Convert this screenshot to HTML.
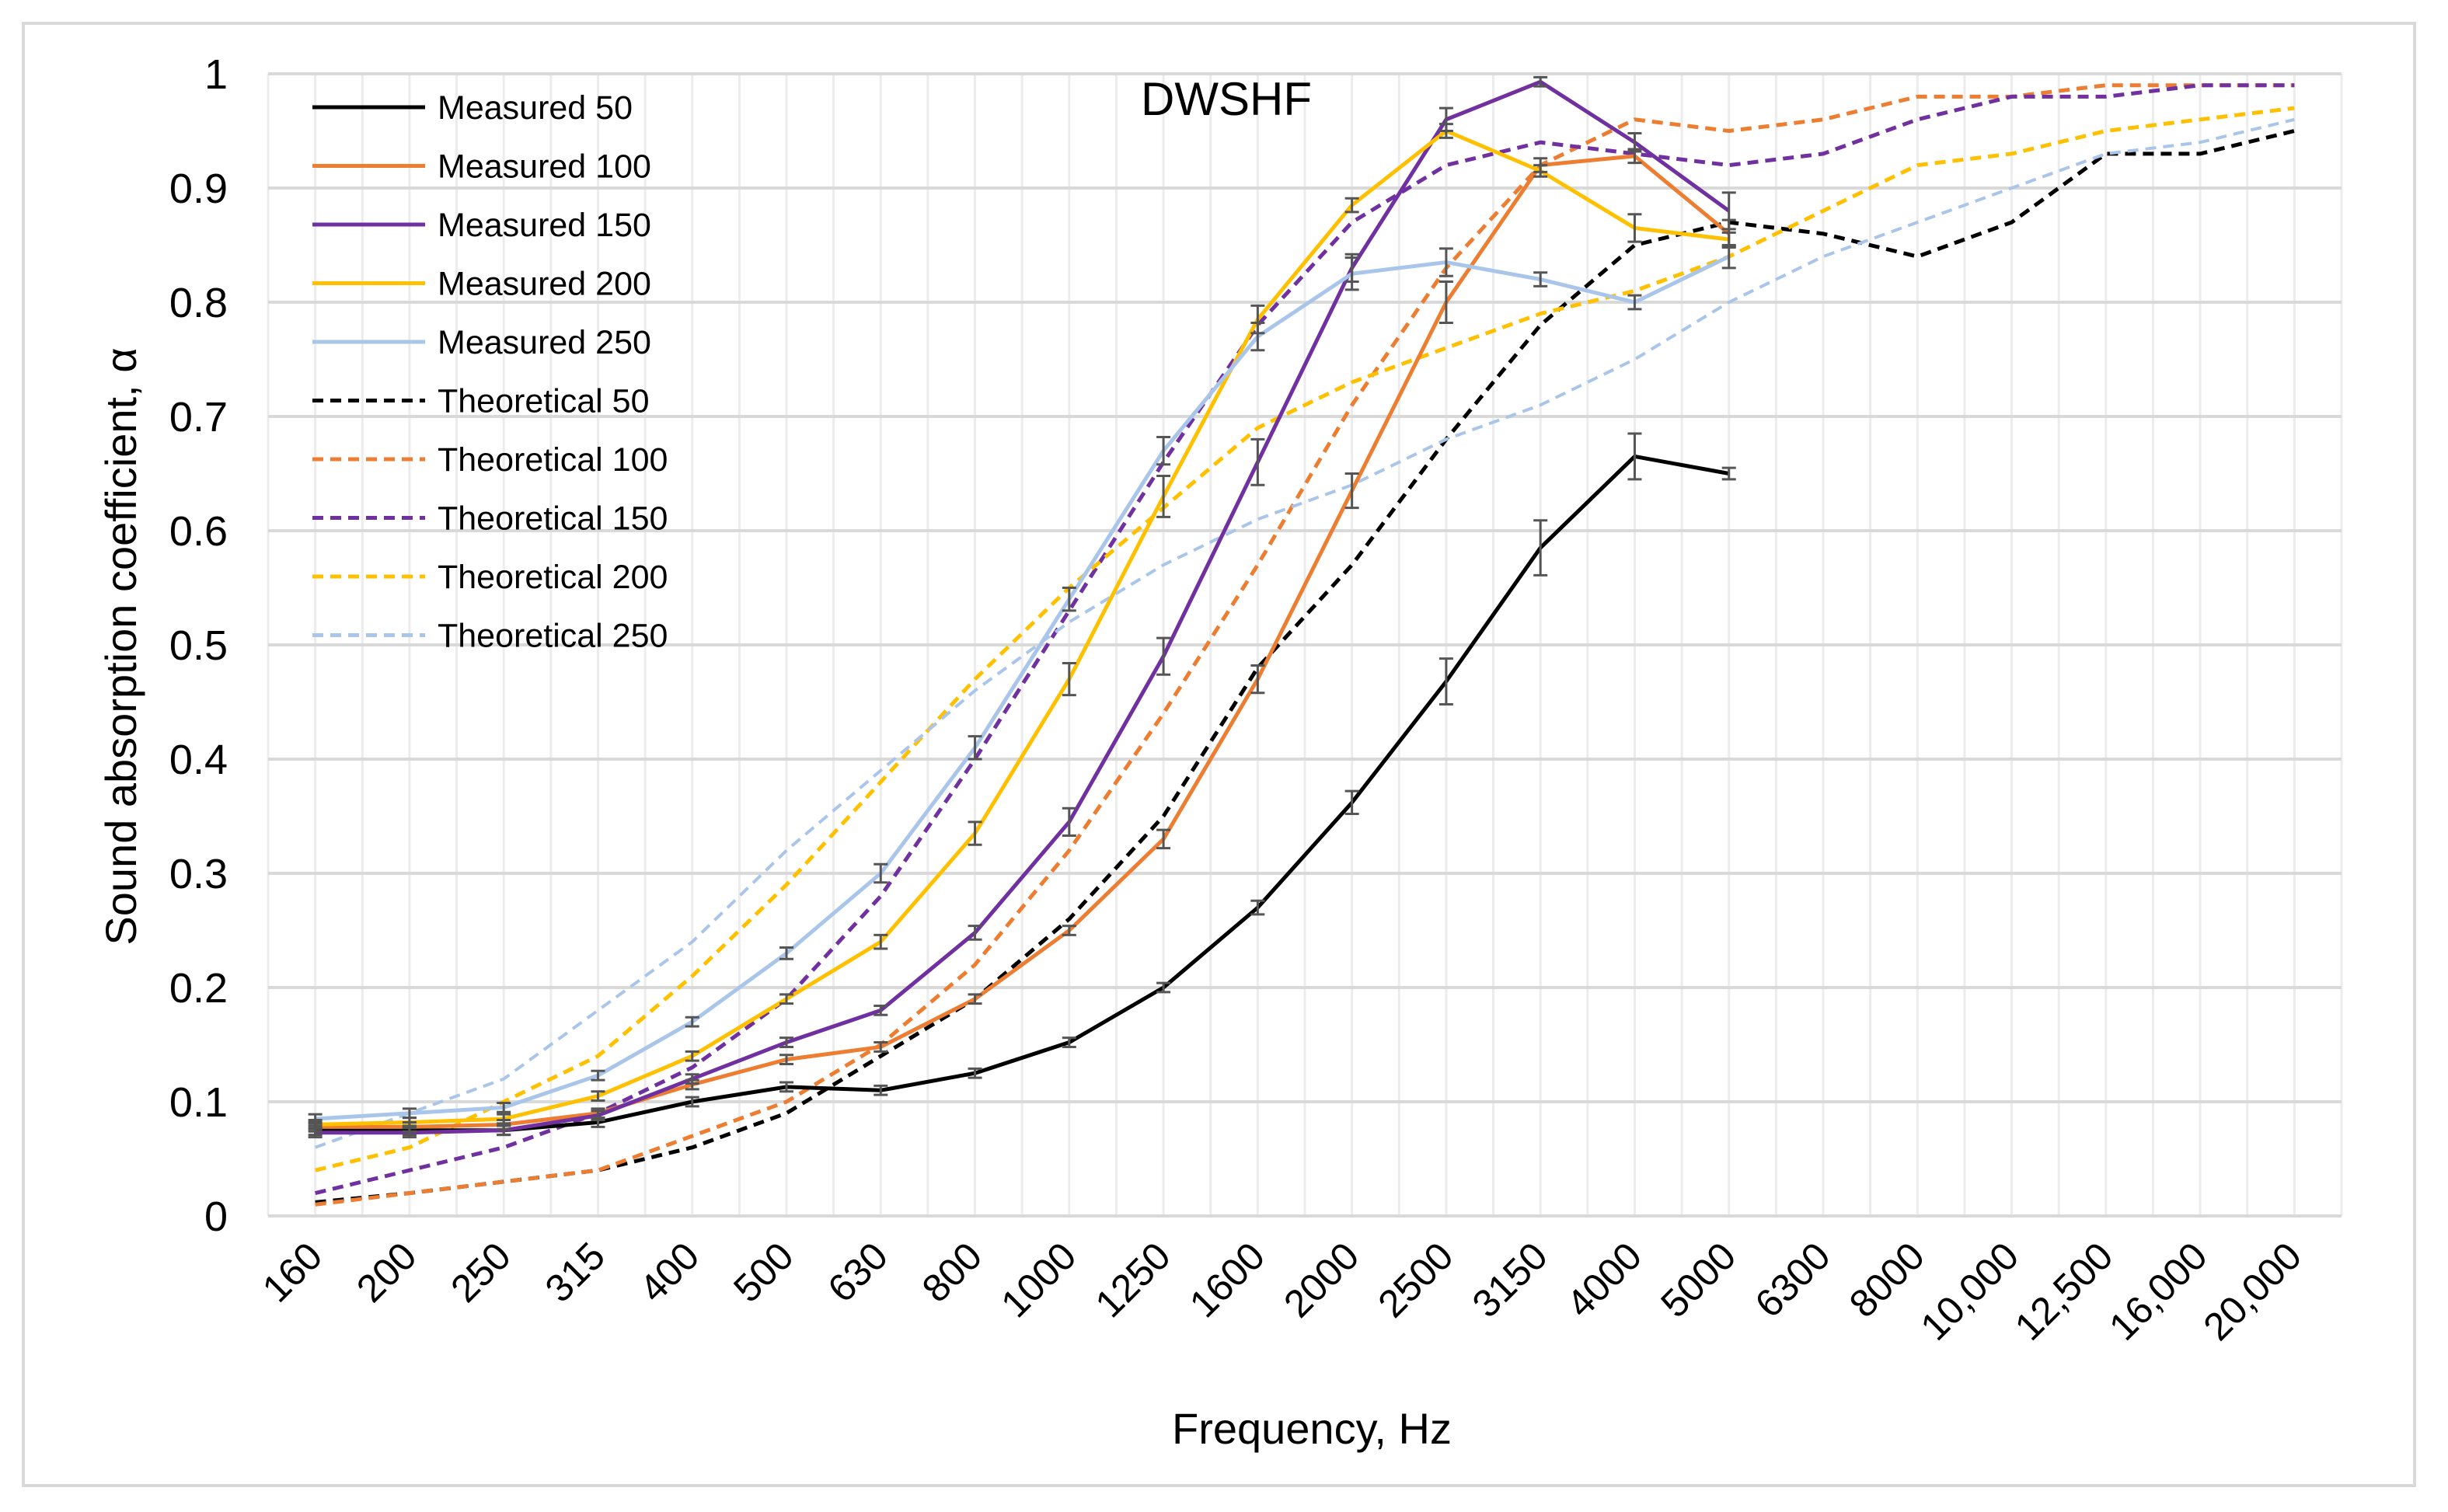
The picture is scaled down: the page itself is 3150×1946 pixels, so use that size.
<!DOCTYPE html>
<html><head><meta charset="utf-8"><style>
html,body{margin:0;padding:0;background:#fff;}
svg{display:block;font-family:"Liberation Sans",sans-serif;}
</style></head><body>
<svg id="chart" width="3150" height="1946" viewBox="0 0 3150 1946" xmlns="http://www.w3.org/2000/svg">
<rect x="30" y="30" width="3077" height="1882" fill="#fff" stroke="#d9d9d9" stroke-width="4"/>
<g id="grid"></g>
<g id="series"></g>
<g id="axes"></g>
<text x="1578" y="148" font-size="60" text-anchor="middle" fill="#000">DWSHF</text>
<text x="1688" y="1858" font-size="56" text-anchor="middle" fill="#000">Frequency, Hz</text>
<text transform="translate(175,832) rotate(-90)" font-size="56" text-anchor="middle" fill="#000">Sound absorption coefficient, α</text>
<g id="legend"></g>
</svg>
<script>
const categories=["160","200","250","315","400","500","630","800","1000","1250","1600","2000","2500","3150","4000","5000","6300","8000","10,000","12,500","16,000","20,000"];
const yTicks=[0,0.1,0.2,0.3,0.4,0.5,0.6,0.7,0.8,0.9,1];
const yTickLabels=["0","0.1","0.2","0.3","0.4","0.5","0.6","0.7","0.8","0.9","1"];
const seriesNames=["Measured 50","Measured 100","Measured 150","Measured 200","Measured 250","Theoretical 50","Theoretical 100","Theoretical 150","Theoretical 200","Theoretical 250"];
const meas50=[0.075,0.075,0.075,0.082,0.1,0.113,0.11,0.125,0.152,0.2,0.27,0.362,0.468,0.585,0.665,0.65];
const meas100=[0.078,0.078,0.08,0.09,0.115,0.137,0.148,0.19,0.25,0.33,0.47,0.635,0.8,0.92,0.928,0.86];
const meas150=[0.073,0.073,0.075,0.088,0.12,0.152,0.18,0.248,0.345,0.49,0.66,0.83,0.96,0.993,0.94,0.88];
const meas200=[0.08,0.082,0.085,0.105,0.14,0.19,0.24,0.335,0.47,0.63,0.785,0.885,0.95,0.915,0.865,0.855];
const meas250=[0.085,0.09,0.095,0.123,0.17,0.23,0.3,0.41,0.54,0.67,0.77,0.825,0.835,0.82,0.8,0.84];
const err50=[0.004,0.004,0.004,0.004,0.004,0.004,0.004,0.004,0.004,0.004,0.006,0.01,0.02,0.024,0.02,0.005];
const err100=[0.004,0.004,0.004,0.004,0.004,0.004,0.004,0.004,0.004,0.008,0.012,0.015,0.018,0.006,0.006,0.012];
const err150=[0.004,0.004,0.004,0.004,0.004,0.004,0.004,0.006,0.012,0.016,0.02,0.012,0.01,0.004,0.008,0.016];
const err200=[0.004,0.004,0.004,0.004,0.004,0.004,0.006,0.01,0.014,0.018,0.012,0.006,0.006,0.005,0.012,0.006];
const err250=[0.004,0.004,0.004,0.004,0.004,0.005,0.008,0.01,0.01,0.012,0.012,0.014,0.012,0.006,0.006,0.01];
const theo50=[0.012,0.02,0.03,0.04,0.06,0.09,0.14,0.19,0.26,0.35,0.48,0.57,0.68,0.78,0.85,0.87,0.86,0.84,0.87,0.93,0.93,0.95];
const theo100=[0.01,0.02,0.03,0.04,0.07,0.1,0.15,0.22,0.32,0.44,0.57,0.71,0.83,0.92,0.96,0.95,0.96,0.98,0.98,0.99,0.99,0.99];
const theo150=[0.02,0.04,0.06,0.09,0.13,0.19,0.28,0.4,0.53,0.66,0.78,0.87,0.92,0.94,0.93,0.92,0.93,0.96,0.98,0.98,0.99,0.99];
const theo200=[0.04,0.06,0.1,0.14,0.21,0.29,0.38,0.47,0.55,0.62,0.69,0.73,0.76,0.79,0.81,0.84,0.88,0.92,0.93,0.95,0.96,0.97];
const theo250=[0.06,0.09,0.12,0.18,0.24,0.32,0.39,0.46,0.52,0.57,0.61,0.64,0.68,0.71,0.75,0.8,0.84,0.87,0.9,0.93,0.94,0.96];

const NS="http://www.w3.org/2000/svg";
const L=345,R=3013,T=95,B=1565;
const band=(R-L)/categories.length;
function xS(i){return L+band*(i+0.5);}
function yS(v){return B-(B-T)*v;}
function mk(tag,attrs,parent){const e=document.createElementNS(NS,tag);for(const k in attrs)e.setAttribute(k,attrs[k]);parent.appendChild(e);return e;}

const grid=document.getElementById('grid');
for(let k=0;k<=categories.length*2;k++){
  const x=L+band*k/2;
  const l=mk('line',{x1:x,x2:x,y1:T,y2:B,stroke:'#ececec','stroke-width':3},grid);
  
  
}
const axes=document.getElementById('axes');
yTicks.forEach((v,i)=>{
  const l=mk('line',{x1:L,x2:R,y1:yS(v),y2:yS(v),stroke:'#d9d9d9','stroke-width':4},grid);
  
  
  const t=mk('text',{x:L-52,y:yS(v)+19,'font-size':54,'text-anchor':'end',fill:'#000'},axes);
  t.textContent=yTickLabels[i];
  
  
});
categories.forEach((c,i)=>{
  const x=xS(i)+12,y=1620;
  const t=mk('text',{x:x,y:y,'font-size':50,'text-anchor':'end',fill:'#000',transform:`rotate(-45 ${x} ${y})`},axes);
  t.textContent=c;
  
  
});

const colors=['#000000','#ED7D31','#7030A0','#FFC000','#A9C6EA'];
const measured=[meas50,meas100,meas150,meas200,meas250];
const errs=[err50,err100,err150,err200,err250];
const theo=[theo50,theo100,theo150,theo200,theo250];
const sg=document.getElementById('series');
function pts(arr){return arr.map((v,i)=>xS(i)+','+yS(v)).join(' ');}
theo.forEach((arr,s)=>{
  const p=mk('polyline',{points:pts(arr),fill:'none',stroke:colors[s],'stroke-width':s==4?4:5,'stroke-dasharray':'14 9'},sg);
  
  
});
measured.forEach((arr,s)=>{
  const p=mk('polyline',{points:pts(arr),fill:'none',stroke:colors[s],'stroke-width':5},sg);
  
  
});
measured.forEach((arr,s)=>{
  arr.forEach((v,i)=>{
    const e=errs[s][i],x=xS(i),y1=yS(v+e),y2=yS(v-e);
    const g=mk('path',{d:`M${x} ${y1}V${y2}M${x-9} ${y1}H${x+9}M${x-9} ${y2}H${x+9}`,stroke:'#555','stroke-width':3,fill:'none'},sg);
    
    
  });
});

const lg=document.getElementById('legend');
seriesNames.forEach((n,i)=>{
  const y=138+i*75.5;
  const l=mk('line',{x1:402,x2:547,y1:y,y2:y,stroke:colors[i%5],'stroke-width':5},lg);
  if(i>=5)l.setAttribute('stroke-dasharray','14 9');
  
  
  const t=mk('text',{x:563,y:y+15,'font-size':43,fill:'#000'},lg);
  t.textContent=n;
  
  
});
</script>
</body></html>
